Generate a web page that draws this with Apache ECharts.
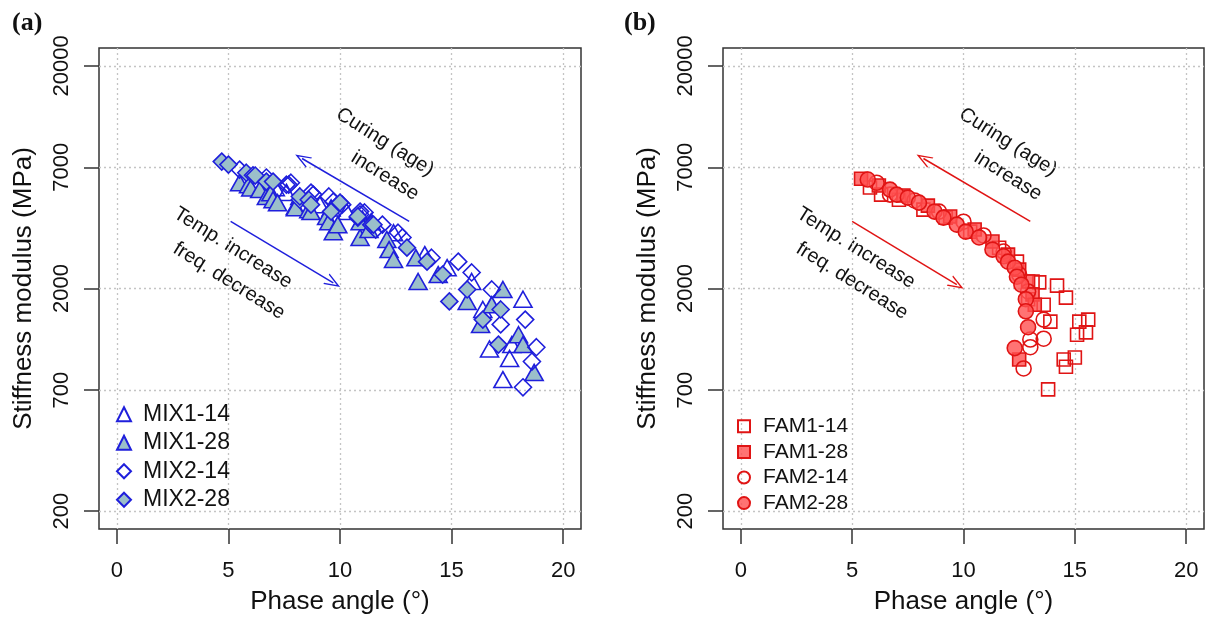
<!DOCTYPE html>
<html>
<head>
<meta charset="utf-8">
<script src="https://cdn.jsdelivr.net/npm/echarts@6/dist/echarts.min.js"></script>
<style>
  html, body { margin: 0; padding: 0; background: #fff; }
  #chart { width: 1210px; height: 621px; }
</style>
</head>
<body>
<div id="chart"></div>
<script>
// [phase angle (deg), stiffness modulus (MPa)]
const mix1_14 = [[6.1,6040],[6.6,5900],[7.1,5670],[7.6,5400],[8.2,5180],[9.1,4760],[9.6,4600],[10.3,4430],[11.0,4100],[11.4,3990],[12.4,3560],[13.8,2840],[14.8,2480],[15.9,2150],[16.4,1610],[16.7,1070],[17.3,780],[17.6,970],[17.7,1120],[18.2,1790]];
const mix1_28 = [[5.5,5970],[5.9,5850],[6.0,5660],[6.4,5560],[6.7,5180],[6.9,5380],[7.0,5010],[7.2,4860],[8.0,4670],[8.0,4610],[8.6,4520],[8.7,4430],[9.4,4210],[9.5,3990],[9.7,3600],[9.9,3870],[10.9,3390],[10.9,3990],[11.3,3680],[12.1,3320],[12.2,2990],[12.4,2700],[13.4,2750],[13.5,2150],[14.4,2310],[15.7,1750],[16.3,1380],[16.8,1690],[17.3,1980],[18.0,1240],[18.2,1120],[18.7,840]];
const mix2_14 = [[5.5,6840],[6.7,6300],[7.6,5850],[7.7,5850],[7.8,5970],[8.7,5390],[8.8,5280],[9.5,5180],[9.7,4910],[10.1,4760],[10.9,4300],[10.9,4430],[11.1,4390],[11.6,3680],[11.9,3870],[12.6,3560],[12.8,3390],[14.1,2750],[15.3,2640],[15.9,2360],[16.8,1980],[17.2,1380],[18.2,720],[18.3,1450],[18.6,940],[18.8,1090]];
const mix2_28 = [[4.7,7430],[5.0,7200],[5.8,6620],[6.1,6450],[6.2,6430],[6.7,6040],[7.0,6040],[8.2,5010],[8.2,5180],[8.6,5010],[8.7,4760],[9.6,4430],[10.0,4860],[10.8,4160],[10.8,4210],[11.4,3870],[11.5,3870],[13.0,3050],[13.9,2640],[14.6,2310],[14.9,1750],[15.7,1980],[16.4,1450],[17.1,1120],[17.2,1610]];

const fam1_14 = [[5.8,5680],[6.3,5280],[7.1,5010],[8.2,4520],[9.2,4160],[10.3,3600],[11.6,3050],[12.4,2640],[12.9,1790],[13.1,2150],[13.4,2130],[13.6,1690],[13.8,705],[13.9,1420],[14.2,2060],[14.5,960],[14.6,890],[14.6,1820],[15.0,980],[15.1,1240],[15.2,1420],[15.5,1270],[15.6,1450]];
const fam1_28 = [[5.4,6220],[6.2,5800],[7.3,5230],[8.4,4710],[9.4,4210],[10.5,3680],[11.3,3250],[12.0,2840],[12.5,2430],[12.5,960],[12.9,2150],[13.1,1880],[13.2,1690]];
const fam2_14 = [[6.1,5970],[6.7,5280],[7.8,4970],[8.9,4430],[10.0,3990],[10.9,3460],[11.8,2930],[12.5,2310],[12.7,875],[12.9,1940],[13.0,1180],[13.0,1090],[13.6,1450],[13.6,1190]];
const fam2_28 = [[5.7,6170],[6.7,5560],[7.0,5280],[7.5,5120],[8.0,4860],[8.7,4430],[9.1,4160],[9.7,3870],[10.1,3600],[10.7,3390],[11.3,2990],[11.8,2790],[12.0,2640],[12.3,2480],[12.3,1080],[12.4,2260],[12.6,2080],[12.8,1790],[12.8,1580],[12.9,1340]];

const xTicks = [0, 5, 10, 15, 20];
const yTicks = [200, 700, 2000, 7000, 20000];
// arrows: [x0, y0, x1, y1] (tail -> head)
const arrowsA = [[13.1, 4000, 8.3, 7670], [5.1, 4000, 9.7, 2120]];
const arrowsB = [[13.0, 4000, 8.2, 7670], [5.0, 4000, 9.7, 2080]];

const lg = v => Math.log10(v);
const toLog = d => d.map(p => [p[0], lg(p[1])]);
const yTickLog = yTicks.map(lg);

const FONT = "Liberation Sans, Arial, sans-serif";
const BLUE = "#1f1fdc";
const BLUE_FILL = "#9bbfca";
const RED = "#e01414";
const RED_FILL = "rgba(255,80,80,0.8)";
const INK = "#111";
const arrowHead = "path://M0,16 L6,0 L12,16 L10.6,16 L6,4 L1.4,16 Z";

function makeArrows(list, color) {
  return {
    silent: true,
    symbol: ["none", arrowHead],
    symbolSize: [12, 16],
    lineStyle: { color: color, width: 1.5, type: "solid" },
    label: { show: false },
    emphasis: { disabled: true },
    data: list.map(a => [{ coord: [a[0], lg(a[1])] }, { coord: [a[2], lg(a[3])] }])
  };
}

function xAxisFor(i) {
  return {
    type: "value",
    gridIndex: i,
    min: -0.8,
    max: 20.8,
    name: "Phase angle (\u00b0)",
    nameLocation: "middle",
    nameGap: 60,
    nameTextStyle: { fontSize: 26, fontFamily: FONT, color: INK },
    axisLine: { show: false, onZero: false },
    axisTick: { customValues: xTicks, length: 15, lineStyle: { color: "#333", width: 1.5 } },
    axisLabel: { customValues: xTicks, margin: 31, fontSize: 22, fontFamily: FONT, color: INK },
    splitLine: { show: true, lineStyle: { type: [2, 3], color: "#c4c4c4", width: 1.3 } }
  };
}

function yAxisFor(i) {
  return {
    type: "value",
    gridIndex: i,
    min: yTickLog[0] - 0.08,
    max: yTickLog[yTickLog.length - 1] + 0.08,
    name: "Stiffness modulus (MPa)",
    nameLocation: "middle",
    nameGap: 62,
    nameTextStyle: { fontSize: 26, fontFamily: FONT, color: INK },
    axisLine: { show: false, onZero: false },
    axisTick: { customValues: yTickLog, length: 15, lineStyle: { color: "#333", width: 1.5 } },
    axisLabel: {
      customValues: yTickLog,
      rotate: 90,
      margin: 26,
      fontSize: 22,
      fontFamily: FONT,
      color: INK,
      formatter: v => String(Math.round(Math.pow(10, v)))
    },
    splitLine: { show: true, lineStyle: { type: [2, 3], color: "#c4c4c4", width: 1.3 } }
  };
}

function scatter(name, data, i, symbol, size, stroke, fill) {
  return {
    name: name,
    type: "scatter",
    xAxisIndex: i,
    yAxisIndex: i,
    data: toLog(data),
    symbol: symbol,
    symbolSize: size,
    itemStyle: { color: fill, borderColor: stroke, borderWidth: 1.6, opacity: 1 },
    emphasis: { disabled: true }
  };
}

function note(text, x, y) {
  return {
    type: "text",
    x: x,
    y: y,
    rotation: -0.56,
    style: { text: text, font: "20px " + FONT, fill: INK, align: "center", verticalAlign: "middle" }
  };
}

const chart = echarts.init(document.getElementById("chart"));

const s1 = scatter("MIX1-14", mix1_14, 0, "triangle", [18, 16], BLUE, "rgba(0,0,0,0)");
s1.markLine = makeArrows(arrowsA, BLUE);
const s5 = scatter("FAM1-14", fam1_14, 1, "rect", 13, RED, "rgba(0,0,0,0)");
s5.markLine = makeArrows(arrowsB, RED);

chart.setOption({
  animation: false,
  backgroundColor: "#fff",
  grid: [
    { left: 99, top: 48, width: 482, height: 481, show: true, borderColor: "#333", borderWidth: 1.5, backgroundColor: "transparent" },
    { left: 723, top: 48, width: 481, height: 481, show: true, borderColor: "#333", borderWidth: 1.5, backgroundColor: "transparent" }
  ],
  xAxis: [xAxisFor(0), xAxisFor(1)],
  yAxis: [yAxisFor(0), yAxisFor(1)],
  legend: [
    {
      data: ["MIX1-14", "MIX1-28", "MIX2-14", "MIX2-28"],
      orient: "vertical",
      left: 116,
      top: 401,
      padding: 0,
      itemWidth: 14,
      itemHeight: 14,
      itemGap: 2,
      selectedMode: false,
      textStyle: { fontSize: 23, fontFamily: FONT, color: INK, lineHeight: 26.5, padding: [0, 0, 0, 7] }
    },
    {
      data: ["FAM1-14", "FAM1-28", "FAM2-14", "FAM2-28"],
      orient: "vertical",
      left: 737,
      top: 414,
      padding: 0,
      itemWidth: 12,
      itemHeight: 12,
      itemGap: 1,
      selectedMode: false,
      textStyle: { fontSize: 21, fontFamily: FONT, color: INK, lineHeight: 24.6, padding: [0, 0, 0, 8] }
    }
  ],
  series: [
    s1,
    scatter("MIX1-28", mix1_28, 0, "triangle", [18, 16], BLUE, BLUE_FILL),
    scatter("MIX2-14", mix2_14, 0, "diamond", 17, BLUE, "rgba(0,0,0,0)"),
    scatter("MIX2-28", mix2_28, 0, "diamond", 17, BLUE, BLUE_FILL),
    s5,
    scatter("FAM1-28", fam1_28, 1, "rect", 13, RED, RED_FILL),
    scatter("FAM2-14", fam2_14, 1, "circle", 15, RED, "rgba(0,0,0,0)"),
    scatter("FAM2-28", fam2_28, 1, "circle", 15, RED, RED_FILL)
  ],
  graphic: [
    { type: "text", x: 12, y: 10, style: { text: "(a)", font: "bold 26px Liberation Serif, serif", fill: INK } },
    { type: "text", x: 624, y: 10, style: { text: "(b)", font: "bold 26px Liberation Serif, serif", fill: INK } },
    note("Curing (age)", 385, 142),
    note("increase", 385, 176),
    note("Temp. increase", 233, 248),
    note("freq. decrease", 229, 281),
    note("Curing (age)", 1008, 142),
    note("increase", 1008, 176),
    note("Temp. increase", 856, 248),
    note("freq. decrease", 852, 281)
  ]
});
</script>
</body>
</html>
